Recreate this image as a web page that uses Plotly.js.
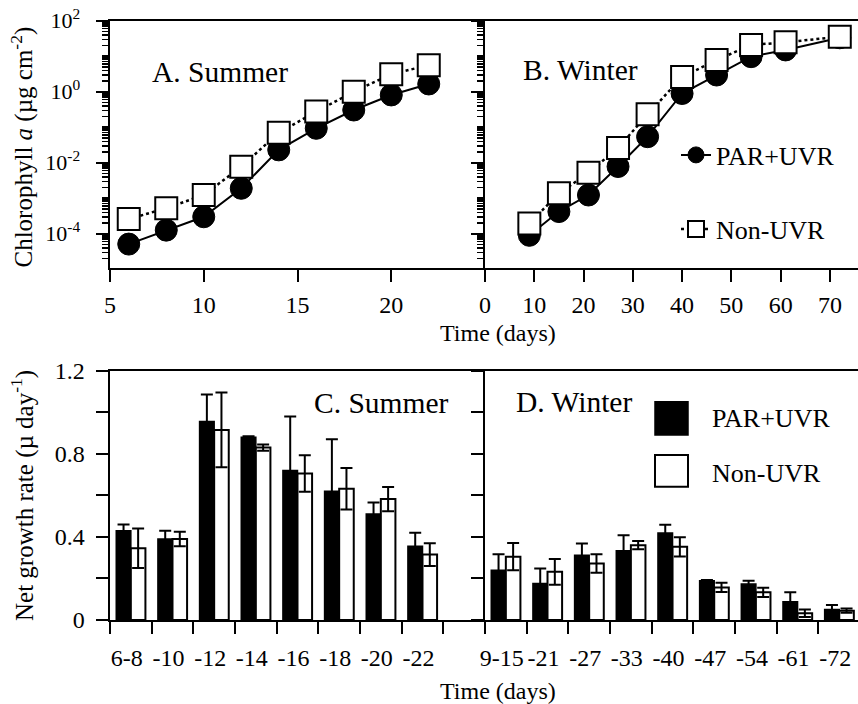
<!DOCTYPE html>
<html><head><meta charset="utf-8">
<script src="https://cdn.plot.ly/plotly-3.0.1.min.js"></script>
<style>html,body{margin:0;padding:0;background:#fff}</style>
</head><body><div id="chart" style="width:858px;height:704px"></div>
<script>
// Panel A/B: chlorophyll a (µg cm^-2)
const summerDays = [6, 8, 10, 12, 14, 16, 18, 20, 22];
const summerChlParUvr = [5.1e-5, 1.26e-4, 3.0e-4, 1.9e-3, 0.023, 0.093, 0.305, 0.81, 1.65];
const summerChlNonUvr = [2.6e-4, 5.2e-4, 1.23e-3, 7.7e-3, 0.070, 0.275, 1.0, 3.1, 5.6];
const winterDays = [9, 15, 21, 27, 33, 40, 47, 54, 61, 72];
const winterChlParUvr = [9e-5, 4.2e-4, 1.23e-3, 7.8e-3, 0.054, 0.89, 2.95, 9.7, 15, 33];
const winterChlNonUvr = [1.95e-4, 1.37e-3, 5.2e-3, 0.026, 0.23, 2.6, 7.8, 20.7, 24.6, 35.5];
const logTickVals = [1e-4, 1e-2, 1, 100];
const logTickText = ['10<sup>-4</sup>', '10<sup>-2</sup>', '10<sup>0</sup>', '10<sup>2</sup>'];

// Panel C/D: net growth rate (µ day^-1)
const summerIntervals = ['6-8', '-10', '-12', '-14', '-16', '-18', '-20', '-22'];
const summerGrowthParUvr = [0.43, 0.39, 0.955, 0.88, 0.72, 0.62, 0.51, 0.355];
const summerErrParUvr = [0.03, 0.04, 0.13, 0.004, 0.26, 0.25, 0.055, 0.065];
const summerGrowthNonUvr = [0.345, 0.39, 0.915, 0.83, 0.705, 0.632, 0.582, 0.315];
const summerErrNonUvr = [0.095, 0.035, 0.18, 0.015, 0.088, 0.1, 0.058, 0.055];
const winterIntervals = ['9-15', '-21', '-27', '-33', '-40', '-47', '-54', '-61', '-72'];
const winterGrowthParUvr = [0.24, 0.176, 0.312, 0.333, 0.419, 0.189, 0.173, 0.088, 0.051];
const winterErrParUvr = [0.077, 0.072, 0.056, 0.075, 0.04, 0.004, 0.016, 0.045, 0.021];
const winterGrowthNonUvr = [0.305, 0.232, 0.272, 0.36, 0.352, 0.157, 0.133, 0.032, 0.045];
const winterErrNonUvr = [0.066, 0.062, 0.045, 0.02, 0.046, 0.022, 0.022, 0.018, 0.01];
const growthTickVals = [0, 0.2, 0.4, 0.6, 0.8, 1.0, 1.2];
const growthTickText = ['0', '', '0.4', '', '0.8', '', '1.2'];

const W = 858, H = 704;
const px = v => v / W;
const py = v => 1 - v / H;
const FONT = 'Liberation Serif, Times New Roman, serif';
const NB = '\u00a0';

const parLine = {color: 'black', width: 2};
const nonLine = {color: 'black', width: 2.5, dash: 'dot'};
const parMarker = {symbol: 'circle', size: 22, color: 'black', line: {color: 'black', width: 1}};
const nonMarker = {symbol: 'square', size: 22, color: 'white', line: {color: 'black', width: 2}};

const traces = [
  {x: summerDays, y: summerChlParUvr, xaxis: 'x', yaxis: 'y', mode: 'lines+markers', line: parLine, marker: parMarker, showlegend: false, name: 'PAR+UVR'},
  {x: summerDays, y: summerChlNonUvr, xaxis: 'x', yaxis: 'y', mode: 'lines+markers', line: nonLine, marker: nonMarker, showlegend: false, name: 'Non-UVR'},
  {x: winterDays, y: winterChlParUvr, xaxis: 'x2', yaxis: 'y2', mode: 'lines+markers', line: parLine, marker: parMarker, name: 'PAR+UVR', legend: 'legend'},
  {x: winterDays, y: winterChlNonUvr, xaxis: 'x2', yaxis: 'y2', mode: 'lines+markers', line: nonLine, marker: nonMarker, name: 'Non-UVR', legend: 'legend2'},
  {type: 'bar', x: summerIntervals, y: summerGrowthParUvr, xaxis: 'x3', yaxis: 'y3', name: 'PAR+UVR', showlegend: false,
   marker: {color: 'black', line: {color: 'black', width: 1.5}},
   error_y: {type: 'data', array: summerErrParUvr, color: 'black', thickness: 2, width: 6}},
  {type: 'bar', x: summerIntervals, y: summerGrowthNonUvr, xaxis: 'x3', yaxis: 'y3', name: 'Non-UVR', showlegend: false,
   marker: {color: 'white', line: {color: 'black', width: 2}},
   error_y: {type: 'data', array: summerErrNonUvr, color: 'black', thickness: 2, width: 6}},
  {type: 'bar', x: winterIntervals, y: winterGrowthParUvr, xaxis: 'x4', yaxis: 'y4', name: 'PAR+UVR', showlegend: false,
   marker: {color: 'black', line: {color: 'black', width: 1.5}},
   error_y: {type: 'data', array: winterErrParUvr, color: 'black', thickness: 2, width: 6}},
  {type: 'bar', x: winterIntervals, y: winterGrowthNonUvr, xaxis: 'x4', yaxis: 'y4', name: 'Non-UVR', showlegend: false,
   marker: {color: 'white', line: {color: 'black', width: 2}},
   error_y: {type: 'data', array: winterErrNonUvr, color: 'black', thickness: 2, width: 6}}
];

const topDom = [py(268), py(20.7)];
const botDom = [py(620), py(370.7)];
const baseAx = {
  showgrid: false, zeroline: false, showline: true, linecolor: 'black', linewidth: 2.5,
  ticks: 'outside', ticklen: 12, tickwidth: 2, tickcolor: 'black', tickangle: 0,
  tickfont: {family: FONT, size: 24, color: 'black'}
};
const logMinor = {dtick: 'D1', ticks: 'outside', ticklen: 6, tickwidth: 1.5, tickcolor: 'black', showgrid: false};

const layout = {
  width: W, height: H,
  margin: {l: 0, r: 0, t: 0, b: 0},
  paper_bgcolor: 'white', plot_bgcolor: 'rgba(0,0,0,0)',
  font: {family: FONT, color: 'black'},
  barmode: 'group', bargap: 0.3, bargroupgap: 0,
  xaxis: Object.assign({}, baseAx, {domain: [px(110), px(485)], range: [5, 25], tickvals: [5, 10, 15, 20], anchor: 'y', mirror: true, linewidth: 2, ticklabelstandoff: 2}),
  yaxis: Object.assign({}, baseAx, {domain: topDom, type: 'log', range: [-4.966, 2], tickvals: logTickVals,
    ticktext: logTickText.map(t => t + NB + NB), anchor: 'x', minor: logMinor,
    tickfont: {family: FONT, size: 22, color: 'black'}}),
  xaxis2: Object.assign({}, baseAx, {domain: [px(485), 1], range: [0, 75.7], tick0: 0, dtick: 10, anchor: 'y2', mirror: true, linewidth: 2, ticklabelstandoff: 2}),
  yaxis2: Object.assign({}, baseAx, {domain: topDom, type: 'log', range: [-4.966, 2], tickvals: logTickVals, ticktext: logTickText, showticklabels: false, anchor: 'x2', minor: logMinor}),
  xaxis3: Object.assign({}, baseAx, {domain: [px(110), px(485)], type: 'category', range: [-0.5, 8.5], tickson: 'boundaries', anchor: 'y3', mirror: true, linewidth: 2, ticklabelshift: -4, ticklabelstandoff: 15}),
  yaxis3: Object.assign({}, baseAx, {domain: botDom, range: [0, 1.2], tickvals: growthTickVals,
    ticktext: growthTickText.map(t => t ? t + NB : t), anchor: 'x3'}),
  xaxis4: Object.assign({}, baseAx, {domain: [px(485), 1], type: 'category', range: [-0.5, 8.45], tickson: 'boundaries', anchor: 'y4', mirror: true, linewidth: 2, ticklabelshift: -4, ticklabelstandoff: 15}),
  yaxis4: Object.assign({}, baseAx, {domain: botDom, range: [0, 1.2], tickvals: growthTickVals, showticklabels: false, anchor: 'x4'}),
  legend: {x: px(676), y: py(155), xanchor: 'left', yanchor: 'middle', bgcolor: 'rgba(0,0,0,0)', borderwidth: 0,
           font: {family: FONT, size: 26, color: 'black'}, itemsizing: 'trace'},
  legend2: {x: px(676), y: py(229), xanchor: 'left', yanchor: 'middle', bgcolor: 'rgba(0,0,0,0)', borderwidth: 0,
           font: {family: FONT, size: 26, color: 'black'}, itemsizing: 'trace'},
  shapes: [
    {type: 'rect', xref: 'paper', yref: 'paper', x0: px(655), x1: px(688), y0: py(435), y1: py(401.7), fillcolor: 'black', line: {color: 'black', width: 1.5}},
    {type: 'rect', xref: 'paper', yref: 'paper', x0: px(655), x1: px(688), y0: py(486.7), y1: py(455), fillcolor: 'white', line: {color: 'black', width: 2}}
  ],
  annotations: [
    {text: 'A. Summer', x: px(219.5), y: py(72)},
    {text: 'B. Winter', x: px(580), y: py(70)},
    {text: 'C. Summer', x: px(381), y: py(402.5)},
    {text: 'D. Winter', x: px(574), y: py(401.7)}
  ].map(a => Object.assign({xref: 'paper', yref: 'paper', showarrow: false, xanchor: 'center', yanchor: 'middle', font: {family: FONT, size: 29.5, color: 'black'}}, a)).concat([
    {text: 'Time (days)', x: px(497.5), y: py(333), size: 24},
    {text: 'Time (days)', x: px(498), y: py(691), size: 24},
    {text: 'Chlorophyll <i>a</i> (µg cm<sup>-2</sup>)', x: px(22), y: py(147.5), textangle: -90, size: 25},
    {text: 'Net growth rate (µ day<sup>-1</sup>)', x: px(22), y: py(496), textangle: -90, size: 25}
  ].map(a => Object.assign({xref: 'paper', yref: 'paper', showarrow: false, xanchor: 'center', yanchor: 'middle', font: {family: FONT, size: a.size, color: 'black'}},
    {text: a.text, x: a.x, y: a.y, textangle: a.textangle || 0}))).concat([
    {text: 'PAR+UVR', x: px(710), y: py(418)},
    {text: 'Non-UVR', x: px(710), y: py(473)}
  ].map(a => Object.assign({xref: 'paper', yref: 'paper', showarrow: false, xanchor: 'left', yanchor: 'middle', font: {family: FONT, size: 26, color: 'black'}}, a)))
};

Plotly.newPlot('chart', traces, layout, {displayModeBar: false, staticPlot: true});
</script>
</body></html>
